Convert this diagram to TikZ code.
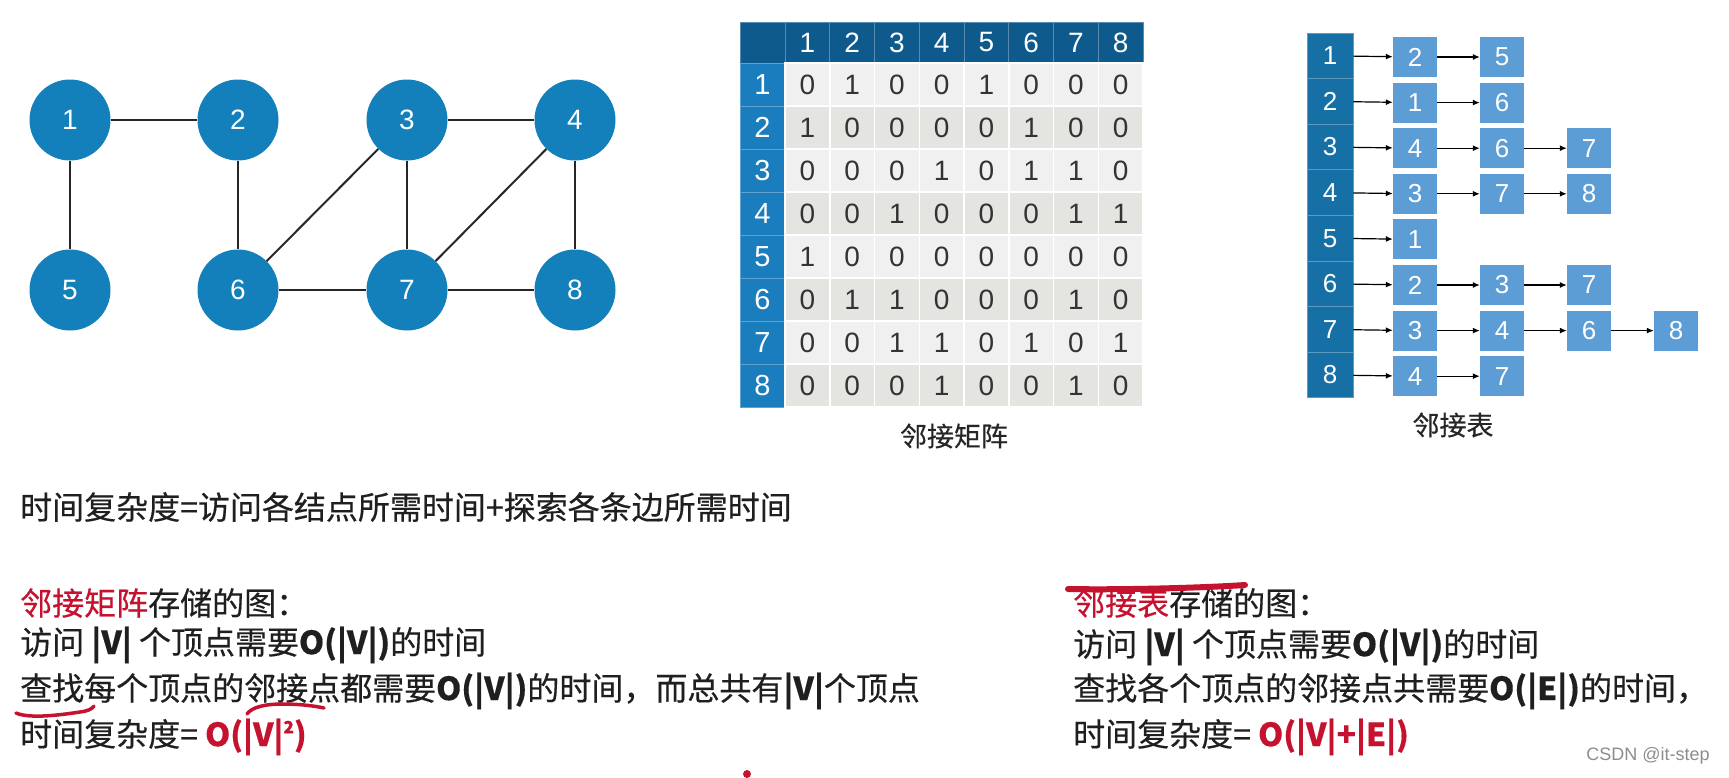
\documentclass[tikz,border=0pt]{standalone}
\usepackage{fontspec}
\setmainfont{Liberation Sans}
\newfontfamily\cjk[FakeBold=0.4]{Noto Sans CJK SC}
\usetikzlibrary{arrows.meta,positioning}
\definecolor{vblue}{HTML}{1380BC}
\definecolor{hdblue}{HTML}{0F5A8C}
\definecolor{rowblue}{HTML}{1A7DBD}
\definecolor{headblue}{HTML}{1670A6}
\definecolor{itemblue}{HTML}{5C9DD5}
\definecolor{cell1}{HTML}{F0F0F0}
\definecolor{cell0}{HTML}{E4E4E0}
\definecolor{hlred}{HTML}{C4122F}
\begin{document}
\begin{tikzpicture}[x=1pt,y=-1pt,
  vertex/.style={circle,fill=vblue,text=white,minimum size=81pt,inner sep=0pt,font=\fontsize{28}{28}\selectfont},
  edge/.style={draw=black!85,line width=2pt},
  cell/.style={draw=white,line width=1.5pt,minimum width=44.75pt,minimum height=43pt,inner sep=0pt,text=black!80,font=\fontsize{28}{28}\selectfont},
  hcell/.style={cell,fill=hdblue,draw=hdblue!70!white,line width=0.8pt,minimum height=41pt,text=white,font=\fontsize{28}{28}\selectfont},
  rcell/.style={cell,fill=rowblue,draw=rowblue!70!white,line width=0.8pt,minimum width=45pt,text=white,font=\fontsize{29}{29}\selectfont},
  headcell/.style={fill=headblue,draw=headblue!70!white,line width=0.8pt,minimum width=46pt,minimum height=45.6pt,inner sep=0pt,text=white,font=\fontsize{26}{26}\selectfont},
  item/.style={fill=itemblue,minimum width=44pt,minimum height=40pt,inner sep=0pt,text=white,font=\fontsize{26}{26}\selectfont},
  link/.style={draw=black,line width=1.2pt,-{Latex[length=7pt,width=6pt]}},
  caption/.style={text=black!85,font=\cjk\fontsize{27}{27}\selectfont},
  txt/.style={anchor=west,inner sep=0pt,text=black!88,font=\cjk\fontsize{32}{32}\selectfont},
  pen/.style={draw=hlred,line width=3.5pt,line cap=round}]
\useasboundingbox (0,0) rectangle (1729,777);
\foreach \n/\x/\y in {1/70/120,2/238/120,3/407/120,4/575/120,5/70/290,6/238/290,7/407/290,8/575/290}
  \node[vertex] (v\n) at (\x,\y) {\n};
\foreach \a/\b in {1/2,1/5,2/6,3/4,3/6,3/7,4/7,4/8,6/7,7/8}
  \draw[edge] (v\a) -- (v\b);
\node[hcell,minimum width=45pt] (corner) at (762.5,42.5) {};
\foreach \j in {1,...,8}
  \node[hcell] (c\j) at ({785+44.75*(\j-0.5)},42.5) {\j};
\foreach \row [count=\i, evaluate=\i as \c using {int(mod(\i,2))}] in
  {{0,1,0,0,1,0,0,0},{1,0,0,0,0,1,0,0},{0,0,0,1,0,1,1,0},{0,0,1,0,0,0,1,1},
   {1,0,0,0,0,0,0,0},{0,1,1,0,0,0,1,0},{0,0,1,1,0,1,0,1},{0,0,0,1,0,0,1,0}}
{
  \node[rcell] (r\i) at (762.5,{63+43*(\i-0.5)}) {\i};
  \foreach \v [count=\j] in \row
    \node[cell,fill=cell\c] (m\i\j) at ({785+44.75*(\j-0.5)},{63+43*(\i-0.5)}) {\v};
}
\node[caption] (mcap) at (954,436) {邻接矩阵};
\foreach \lst [count=\i] in {{2,5},{1,6},{4,6,7},{3,7,8},{1},{2,3,7},{3,4,6,8},{4,7}}
{
  \node[headcell] (l\i0) at (1330,{55.8+45.6*(\i-1)}) {\i};
  \foreach \v [count=\j, remember=\j as \k (initially 0)] in \lst
  {
    \node[item] (l\i\j) at ({1415+87*(\j-1)},{57+45.6*(\i-1)}) {\v};
    \draw[link] (l\i\k) -- (l\i\j);
  }
}
\node[caption] (lcap) at (1453,425) {邻接表};
\node[txt] (t1) at (20,507) {时间复杂度=访问各结点所需时间+探索各条边所需时间};
\node[txt] (t2) at (20,603) {\textcolor{hlred}{邻接矩阵}存储的图：};
\node[txt] (t3) at (20,645) {访问 \textbf{|V|} 个顶点需要\textbf{O(|V|)}的时间};
\node[txt] (t4) at (20,691) {查找每个顶点的邻接点都需要\textbf{O(|V|)}的时间，而总共有\textbf{|V|}个顶点};
\node[txt] (t5) at (20,737) {时间复杂度= \textcolor{hlred}{\textbf{O(|V|\raisebox{0.4em}{\fontsize{17}{17}\selectfont 2})}}};
\node[txt] (s1) at (1073,603) {\textcolor{hlred}{邻接表}存储的图：};
\node[txt] (s2) at (1073,647) {访问 \textbf{|V|} 个顶点需要\textbf{O(|V|)}的时间};
\node[txt] (s3) at (1073,691) {查找各个顶点的邻接点共需要\textbf{O(|E|)}的时间，};
\node[txt] (s4) at (1073,737) {时间复杂度= \textcolor{hlred}{\textbf{O(|V|+|E|)}}};
\node[text=black!45,font=\fontsize{18}{18}\selectfont] (wm) at (1648,756) {CSDN @it-step};
\draw[pen] (16,713) .. controls (30,719) and (60,715) .. (80,712) .. controls (88,711) and (92,709) .. (94,706);
\draw[pen] (247,714) .. controls (252,707) and (265,704) .. (283,704) .. controls (300,704) and (315,706) .. (324,708);
\draw[pen,line width=6pt] (1068,589) .. controls (1120,590) and (1200,588) .. (1245,585);
\fill[hlred] (747,774) circle (4pt);
\end{tikzpicture}
\end{document}
